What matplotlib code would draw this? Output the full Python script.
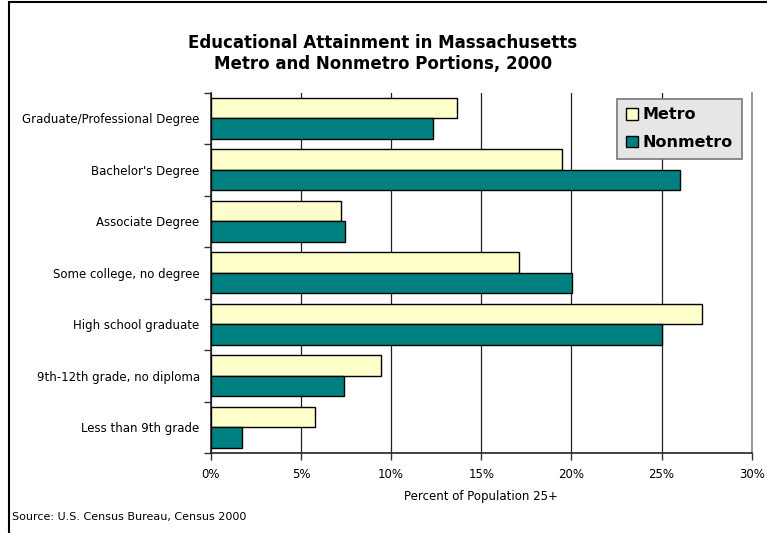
import matplotlib
matplotlib.use('Agg')
import matplotlib.pyplot as plt
from matplotlib.patches import Rectangle
import numpy as np

categories = [
    'Graduate/Professional Degree',
    "Bachelor's Degree",
    'Associate Degree',
    'Some college, no degree',
    'High school graduate',
    '9th-12th grade, no diploma',
    'Less than 9th grade',
]
metro = [13.65, 19.5, 7.2, 17.07, 27.27, 9.45, 5.79]
nonmetro = [12.33, 26.05, 7.42, 20.04, 25.03, 7.4, 1.71]
x_ticks = [0, 5, 10, 15, 20, 25, 30]

METRO_COLOR = '#FFFFCC'
NONMETRO_COLOR = '#008080'

plt.rcParams['font.family'] = ['DejaVu Sans']

W, H = 767, 533
fig = plt.figure(figsize=(W / 100, H / 100), dpi=100)

# plot area in pixel coords: x 210.8-751.7, y 92.5-453
left, right, top, bottom = 210.8, 751.7, 92.5, 453
ax = fig.add_axes([left / W, 1 - bottom / H, (right - left) / W, (bottom - top) / H])

y = np.arange(len(categories))
h = 0.4
ax.barh(y - h / 2, metro, height=h, color=METRO_COLOR, edgecolor='black',
        linewidth=1, label='Metro', zorder=3)
ax.barh(y + h / 2, nonmetro, height=h, color=NONMETRO_COLOR, edgecolor='black',
        linewidth=1, label='Nonmetro', zorder=3)

ax.set_xlim(0, 30)
ax.set_ylim(len(categories) - 0.5, -0.5)
ax.set_xticks(x_ticks)
ax.set_xticklabels([f'{t}%' for t in x_ticks], fontsize=8.5)
ax.set_yticks(y)
ax.set_yticklabels(categories, fontsize=8.5)
ax.tick_params(axis='y', length=0, pad=8)
ax.set_yticks(np.arange(len(categories) + 1) - 0.5, minor=True)
ax.tick_params(axis='y', which='minor', length=5, width=1, color='#333333')
ax.tick_params(axis='x', length=5, width=1, pad=5.5, color='#333333')
ax.xaxis.grid(True, color='#222222', linewidth=0.9, zorder=0)
ax.set_axisbelow(True)

for s in ['left', 'bottom']:
    ax.spines[s].set_color('#222222')
    ax.spines[s].set_linewidth(1.2)
ax.spines['top'].set_visible(False)
ax.spines['right'].set_color('#888888')
ax.spines['right'].set_linewidth(1.2)

ax.set_xlabel('Percent of Population 25+', fontsize=8.5, labelpad=7)

leg = ax.legend(loc='upper right', bbox_to_anchor=((741.5 - left) / (right - left), 1 - (98.5 - top) / (bottom - top)),
                prop={'weight': 'bold', 'size': 11.5}, frameon=True, fancybox=False,
                handlelength=0.75, handleheight=0.75, handletextpad=0.3,
                borderpad=0.55, labelspacing=0.8, borderaxespad=0)
leg.get_frame().set_facecolor('#E6E6E6')
leg.get_frame().set_edgecolor('#777777')
leg.get_frame().set_linewidth(1.2)
leg.get_frame().set_alpha(1)

fig.text(383 / W, 1 - 43 / H, 'Educational Attainment in Massachusetts',
         ha='center', va='center', fontsize=12, fontweight='bold')
fig.text(383 / W, 1 - 64 / H, 'Metro and Nonmetro Portions, 2000',
         ha='center', va='center', fontsize=12, fontweight='bold')
fig.text(12 / W, 1 - 517 / H, 'Source: U.S. Census Bureau, Census 2000',
         ha='left', va='center', fontsize=8)

# outer chart frame (left and top edges visible)
fig.add_artist(Rectangle((8.5 / W, -0.1), 1.2, 1.1 - 2.5 / H, transform=fig.transFigure,
                         fill=False, edgecolor='black', linewidth=1.5))

fig.savefig('out.png', dpi=100)
